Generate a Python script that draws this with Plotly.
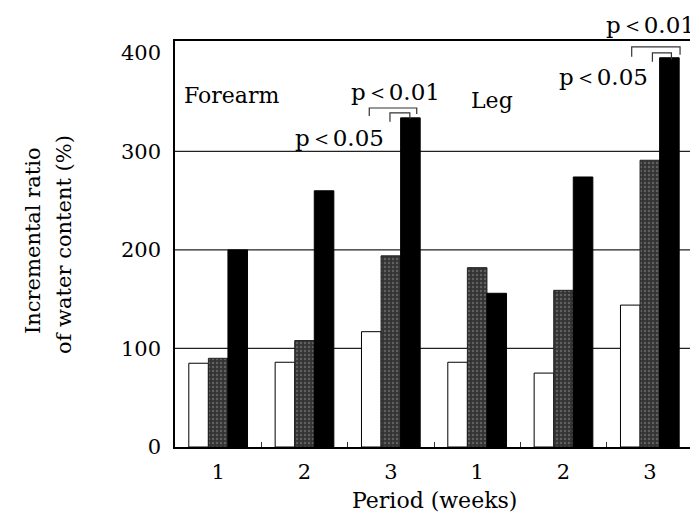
import plotly.graph_objects as go

categories = ["Forearm 1", "Forearm 2", "Forearm 3", "Leg 1", "Leg 2", "Leg 3"]
tick_labels = ["1", "2", "3", "1", "2", "3"]
white_vals = [85, 86, 117, 86, 75, 144]
gray_vals = [90, 108, 194, 182, 159, 291]
black_vals = [200, 260, 334, 156, 274, 395]

FONT = "DejaVu Serif"

fig = go.Figure()
fig.add_bar(x=categories, y=white_vals, name="white",
            marker=dict(color="white", line=dict(color="black", width=1)))
fig.add_bar(x=categories, y=gray_vals, name="gray",
            marker=dict(color="#333333", line=dict(color="#222", width=1),
                        pattern=dict(shape=".", fgcolor="#8c8c8c", bgcolor="#333333",
                                     size=4, solidity=0.3)))
fig.add_bar(x=categories, y=black_vals, name="black",
            marker=dict(color="black", line=dict(color="black", width=1)))

shapes = []
for g in [100, 200, 300]:
    shapes.append(dict(type="line", xref="paper", x0=0, x1=1, yref="y", y0=g, y1=g,
                       line=dict(color="#222", width=1.3), layer="below"))

def bracket(x0, x1, ytop, yl, yr):
    return dict(type="path", xref="x", yref="y",
                path=f"M {x0},{yl} L {x0},{ytop} L {x1},{ytop} L {x1},{yr}",
                line=dict(color="#333", width=1.2))

# Forearm week 3 brackets
shapes.append(bracket(1.75, 2.30, 344, 336, 338))
shapes.append(bracket(1.99, 2.22, 339, 330, 333))
# Leg week 3 brackets
shapes.append(bracket(4.79, 5.35, 406, 396, 398))
shapes.append(bracket(5.03, 5.25, 400, 391, 393))

ann_font = dict(family=FONT, size=22, color="black")
p_font = dict(family=FONT, size=23, color="black")
title_font = dict(family=FONT, size=21, color="black")
annotations = [
    dict(x=0.15, y=357, xref="x", yref="y", text="Forearm", showarrow=False, font=ann_font,
         xanchor="center", yanchor="middle"),
    dict(x=3.17, y=352, xref="x", yref="y", text="Leg", showarrow=False, font=ann_font,
         xanchor="center", yanchor="middle"),
    dict(x=2.05, y=360, xref="x", yref="y", text="p＜0.01", showarrow=False, font=p_font,
         xanchor="center", yanchor="middle"),
    dict(x=1.41, y=314, xref="x", yref="y", text="p＜0.05", showarrow=False, font=p_font,
         xanchor="center", yanchor="middle"),
    dict(x=4.46, y=375, xref="x", yref="y", text="p＜0.05", showarrow=False, font=p_font,
         xanchor="center", yanchor="middle"),
    dict(x=0.917, y=1.039, xref="paper", yref="paper", text="p＜0.01", showarrow=False,
         font=p_font, xanchor="center", yanchor="middle"),
    dict(x=(33 - 175) / 518, y=(447 - 241) / 406, xref="paper", yref="paper", textangle=-90,
         text="Incremental ratio", showarrow=False, font=title_font,
         xanchor="center", yanchor="middle"),
    dict(x=(64 - 175) / 518, y=(447 - 245) / 406, xref="paper", yref="paper", textangle=-90,
         text="of water content (%)", showarrow=False, font=title_font,
         xanchor="center", yanchor="middle"),
    dict(x=(434 - 175) / 518, y=(447 - 500) / 406, xref="paper", yref="paper",
         text="Period (weeks)", showarrow=False, font=dict(family=FONT, size=22, color="black"),
         xanchor="center", yanchor="middle"),
]

fig.update_layout(
    width=698, height=517,
    margin=dict(l=167, r=13, t=33, b=78),
    paper_bgcolor="white", plot_bgcolor="white",
    barmode="group", bargap=0.32, bargroupgap=0,
    showlegend=False,
    shapes=shapes, annotations=annotations,
    font=dict(family=FONT, color="black"),
)
fig.update_xaxes(
    type="category", tickmode="array", tickvals=categories, ticktext=tick_labels,
    tickson="boundaries", ticks="inside", ticklen=5, tickcolor="#333",
    showline=True, mirror=True, linecolor="black", linewidth=1.5,
    showgrid=False, tickfont=dict(family=FONT, size=21), ticklabelstandoff=5,
)
fig.update_yaxes(
    range=[0, 412], tickvals=[0, 100, 200, 300, 400],
    showline=True, mirror=True, linecolor="black", linewidth=1.5,
    showgrid=False, zeroline=False, ticks="", tickfont=dict(family=FONT, size=21),
    ticklabelstandoff=8,
)

fig.write_html("out.html")
